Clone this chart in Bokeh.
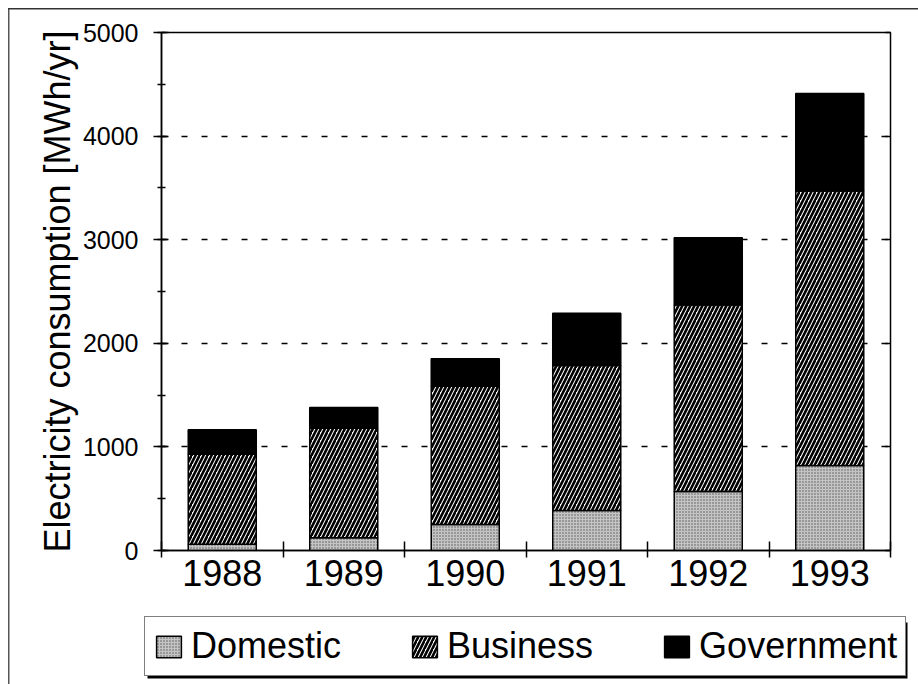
import numpy as np
from bokeh.plotting import figure
from bokeh.layouts import column
from bokeh.models import (ColumnDataSource, Range1d, LinearAxis, SingleIntervalTicker,
                          FixedTicker, Legend, LegendItem, CustomJSTickFormatter,
                          BoxAnnotation)
from bokeh.embed import file_html
from bokeh.resources import INLINE

# Annual electricity consumption by sector, MWh/yr
years = ["1988", "1989", "1990", "1991", "1992", "1993"]
domestic = [60, 122, 250, 385, 570, 820]
business = [870, 1058, 1335, 1400, 1800, 2650]
government = [235, 200, 265, 505, 650, 940]
sectors = ["Domestic", "Business", "Government"]

FONT = "Liberation Sans"

# fill styles per sector
STYLES = {
    "Domestic": dict(fill_color="#c4c4c4", hatch_pattern="dot", hatch_color="#555555",
                     hatch_scale=3, hatch_weight=1),
    "Business": dict(fill_color="white", hatch_pattern="right_diagonal_line",
                     hatch_color="black", hatch_scale=8, hatch_weight=2.6),
    "Government": dict(fill_color="black"),
}

x = np.arange(len(years)) + 0.5
d_top = np.array(domestic, dtype=float)
b_top = d_top + np.array(business, dtype=float)
g_top = b_top + np.array(government, dtype=float)

src = ColumnDataSource(dict(x=x, zero=np.zeros(len(x)), d_top=d_top,
                            b_top=b_top, g_top=g_top))
SEG = {"Domestic": ("zero", "d_top"), "Business": ("d_top", "b_top"),
       "Government": ("b_top", "g_top")}

FRAME = {
    "background-color": "white",
    "background-repeat": "no-repeat",
}

p = figure(width=918, height=610, output_backend="svg", toolbar_location=None,
           x_range=Range1d(0, len(years)), y_range=Range1d(0, 5000),
           min_border_left=161, min_border_right=28, min_border_top=32,
           min_border_bottom=60)
p.frame_align = False

p.outline_line_color = "black"
p.outline_line_width = 1.5
p.background_fill_color = "white"
p.border_fill_alpha = 0
# thin page frame along the top and left edges
p.styles = dict(FRAME, **{
    "background-image": "linear-gradient(#333, #333), linear-gradient(#555, #555)",
    "background-size": "910px 1.5px, 1.5px 610px",
    "background-position": "8px 8px, 8px 8px",
})

# stacked bars
bw = 0.56
for name in sectors:
    lo, hi = SEG[name]
    p.vbar(x="x", bottom=lo, top=hi, width=bw, source=src,
           line_color="black", line_width=1.5, **STYLES[name])

# y axis
yt = SingleIntervalTicker(interval=1000, num_minor_ticks=2)
ya = p.yaxis[0]
ya.ticker = yt
ya.axis_label = "Electricity consumption [MWh/yr]"
ya.axis_label_text_font = FONT
ya.axis_label_text_font_size = "36px"
ya.axis_label_text_font_style = "normal"
ya.axis_label_text_color = "black"
ya.axis_label_standoff = 2
ya.major_label_text_font = FONT
ya.major_label_text_font_size = "25px"
ya.major_label_text_color = "black"
ya.major_label_standoff = 15
ya.major_tick_in = 7
ya.major_tick_out = 8
ya.minor_tick_in = 4
ya.minor_tick_out = 4
ya.axis_line_width = 1.5
ya.major_tick_line_width = 1.5
ya.minor_tick_line_width = 1.5

# right-hand axis: inward ticks only
ra = LinearAxis(ticker=SingleIntervalTicker(interval=1000),
                formatter=CustomJSTickFormatter(code="return ''"),
                major_tick_in=5, major_tick_out=0, minor_tick_in=0, minor_tick_out=0,
                axis_line_color=None, major_tick_line_width=1.5)
p.add_layout(ra, "right")

# x axis: year labels at bar centres, tick marks between categories
xa = p.xaxis[0]
xa.ticker = FixedTicker(ticks=list(x), minor_ticks=list(range(len(years) + 1)))
xa.major_label_overrides = {float(xi): y for xi, y in zip(x, years)}
xa.major_label_text_font = FONT
xa.major_label_text_font_size = "36px"
xa.major_label_text_color = "black"
xa.major_label_standoff = 2
xa.major_tick_in = 0
xa.major_tick_out = 0
xa.minor_tick_in = 9
xa.minor_tick_out = 7
xa.axis_line_width = 1.5
xa.minor_tick_line_width = 1.5

p.xgrid.grid_line_color = None
p.ygrid.ticker = yt
p.ygrid.grid_line_color = "black"
p.ygrid.grid_line_width = 1.5
p.ygrid.grid_line_dash = "6 14"

# legend strip underneath the chart (its own canvas, pixel-scaled)
LH = 74
pl = figure(width=918, height=LH, output_backend="svg", toolbar_location=None,
            x_range=Range1d(0, 918), y_range=Range1d(0, LH),
            x_axis_type=None, y_axis_type=None,
            min_border=0, min_border_left=0, min_border_right=0,
            min_border_top=0, min_border_bottom=0)
pl.frame_align = False
pl.grid.visible = False
pl.outline_line_color = None
pl.background_fill_alpha = 0
pl.border_fill_alpha = 0
pl.styles = dict(FRAME, **{
    "background-image": "linear-gradient(#555, #555)",
    "background-size": "1.5px 100%",
    "background-position": "8px 0px",
})

# drop shadow behind the legend box
pl.add_layout(BoxAnnotation(left=147, right=907, top=12, bottom=68,
                            left_units="canvas", right_units="canvas",
                            top_units="canvas", bottom_units="canvas",
                            fill_color="black", fill_alpha=1, line_color=None))

# legend keys: the same sector series, hidden in this strip
items = []
for name in sectors:
    lo, hi = SEG[name]
    r = pl.vbar(x="x", bottom=lo, top=hi, width=bw, source=src,
                line_color="black", line_width=1.5, **STYLES[name])
    r.visible = False
    items.append(LegendItem(label=name, renderers=[r]))

legend = Legend(items=items, orientation="horizontal", location=(144, 8),
                border_line_color="black", border_line_width=1.5,
                background_fill_color="white", background_fill_alpha=1,
                padding=8, margin=0, spacing=68, glyph_width=31, glyph_height=27,
                label_standoff=7, label_text_font=FONT, label_text_font_size="36px",
                label_text_color="black", click_policy="none",
                inactive_fill_alpha=0)
pl.add_layout(legend)

layout = column(p, pl, spacing=0)
open("out.html", "w").write(file_html(layout, INLINE))
